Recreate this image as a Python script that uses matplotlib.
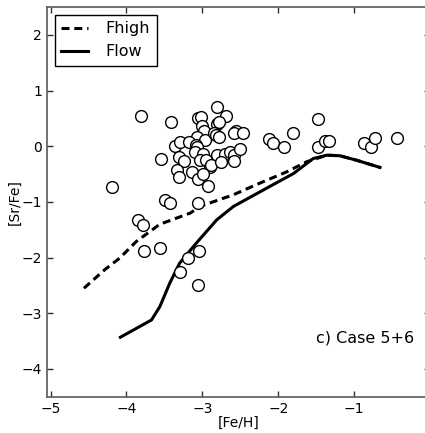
import numpy as np
import matplotlib
matplotlib.use('Agg')
import matplotlib.pyplot as plt

# observed stars, [Fe/H] and [Sr/Fe]
feh_obs = [-4.19, -3.81, -3.41, -2.81, -2.69, -3.06, -3.02, -3.00, -2.81, -2.78,
           -2.98, -3.07, -2.97, -2.85, -2.82, -2.78, -2.56, -2.58, -2.47, -3.36,
           -3.30, -3.18, -3.09, -3.07, -3.10, -2.99, -2.81, -2.70, -2.63, -2.58,
           -2.50, -3.55, -3.31, -3.24, -3.03, -2.95, -2.90, -2.88, -2.75, -2.58,
           -3.33, -3.31, -3.14, -3.06, -2.99, -2.92, -3.49, -3.43, -3.06, -3.85,
           -3.78, -3.77, -3.56, -3.19, -3.04, -3.30, -3.06, -1.48, -2.12, -2.07,
           -1.92, -1.81, -1.48, -1.39, -1.33, -0.87, -0.78, -0.73, -0.43]
srfe_obs = [-0.73, 0.54, 0.43, 0.71, 0.54, 0.50, 0.53, 0.36, 0.40, 0.44,
            0.28, 0.17, 0.11, 0.23, 0.20, 0.17, 0.28, 0.23, 0.24, 0.01,
            0.07, 0.07, 0.02, -0.02, -0.11, -0.13, -0.16, -0.13, -0.11, -0.16,
            -0.05, -0.22, -0.20, -0.27, -0.25, -0.25, -0.37, -0.34, -0.29, -0.26,
            -0.43, -0.56, -0.46, -0.59, -0.49, -0.71, -0.97, -1.01, -1.02, -1.32,
            -1.41, -1.88, -1.82, -2.00, -1.89, -2.26, -2.50, 0.49, 0.13, 0.05,
            -0.01, 0.23, -0.01, 0.09, 0.09, 0.05, -0.01, 0.14, 0.14]

# model Fhigh
feh_high = [-4.56, -4.28, -4.09, -3.87, -3.69, -3.56, -3.16, -3.03, -2.59, -2.24,
            -1.89, -1.63, -1.36, -1.19, -0.97, -0.66]
srfe_high = [-2.55, -2.21, -2.01, -1.71, -1.53, -1.40, -1.20, -1.08, -0.87, -0.66,
             -0.46, -0.28, -0.16, -0.17, -0.25, -0.38]

# model Flow
feh_low = [-4.08, -3.67, -3.56, -3.43, -3.30, -3.08, -2.81, -2.59, -2.15, -1.80,
           -1.54, -1.36, -1.19, -0.97, -0.66]
srfe_low = [-3.43, -3.12, -2.88, -2.46, -2.10, -1.74, -1.32, -1.08, -0.75, -0.49,
            -0.22, -0.16, -0.17, -0.25, -0.38]

fig = plt.figure(figsize=(4.25, 4.33), dpi=100)
ax = fig.add_axes([0.110, 0.0836, 0.902, 0.900])

ax.plot(feh_high, srfe_high, color='black', lw=2.2, dashes=(2.6, 1.6), label='Fhigh')
ax.plot(feh_low, srfe_low, color='black', lw=2.2, label='Flow')
ax.scatter(feh_obs, srfe_obs, s=72, facecolors='white', edgecolors='black',
           linewidths=1.0, zorder=3)

ax.set_xlim(-5.05, 0)
ax.set_ylim(-4.5, 2.5)
ax.set_xticks([-5, -4, -3, -2, -1])
ax.set_yticks([-4, -3, -2, -1, 0, 1, 2])
ax.tick_params(direction='in', top=True, right=True, length=4, width=1,
               color='0.2', labelsize=10)
for sp in ax.spines.values():
    sp.set_color('0.35')
    sp.set_linewidth(1.2)

ax.set_xlabel('[Fe/H]', fontsize=10, labelpad=0)
ax.set_ylabel('[Sr/Fe]', fontsize=10, labelpad=0)
ax.text(-1.50, -3.44, 'c) Case 5+6', fontsize=11.5, ha='left', va='center')

leg = ax.legend(loc='upper left', fontsize=11.5, fancybox=False, framealpha=1,
                edgecolor='black', handlelength=1.7, handletextpad=1.1,
                borderaxespad=0.5)
leg.get_frame().set_linewidth(1.0)

fig.savefig('out.png', dpi=100)
